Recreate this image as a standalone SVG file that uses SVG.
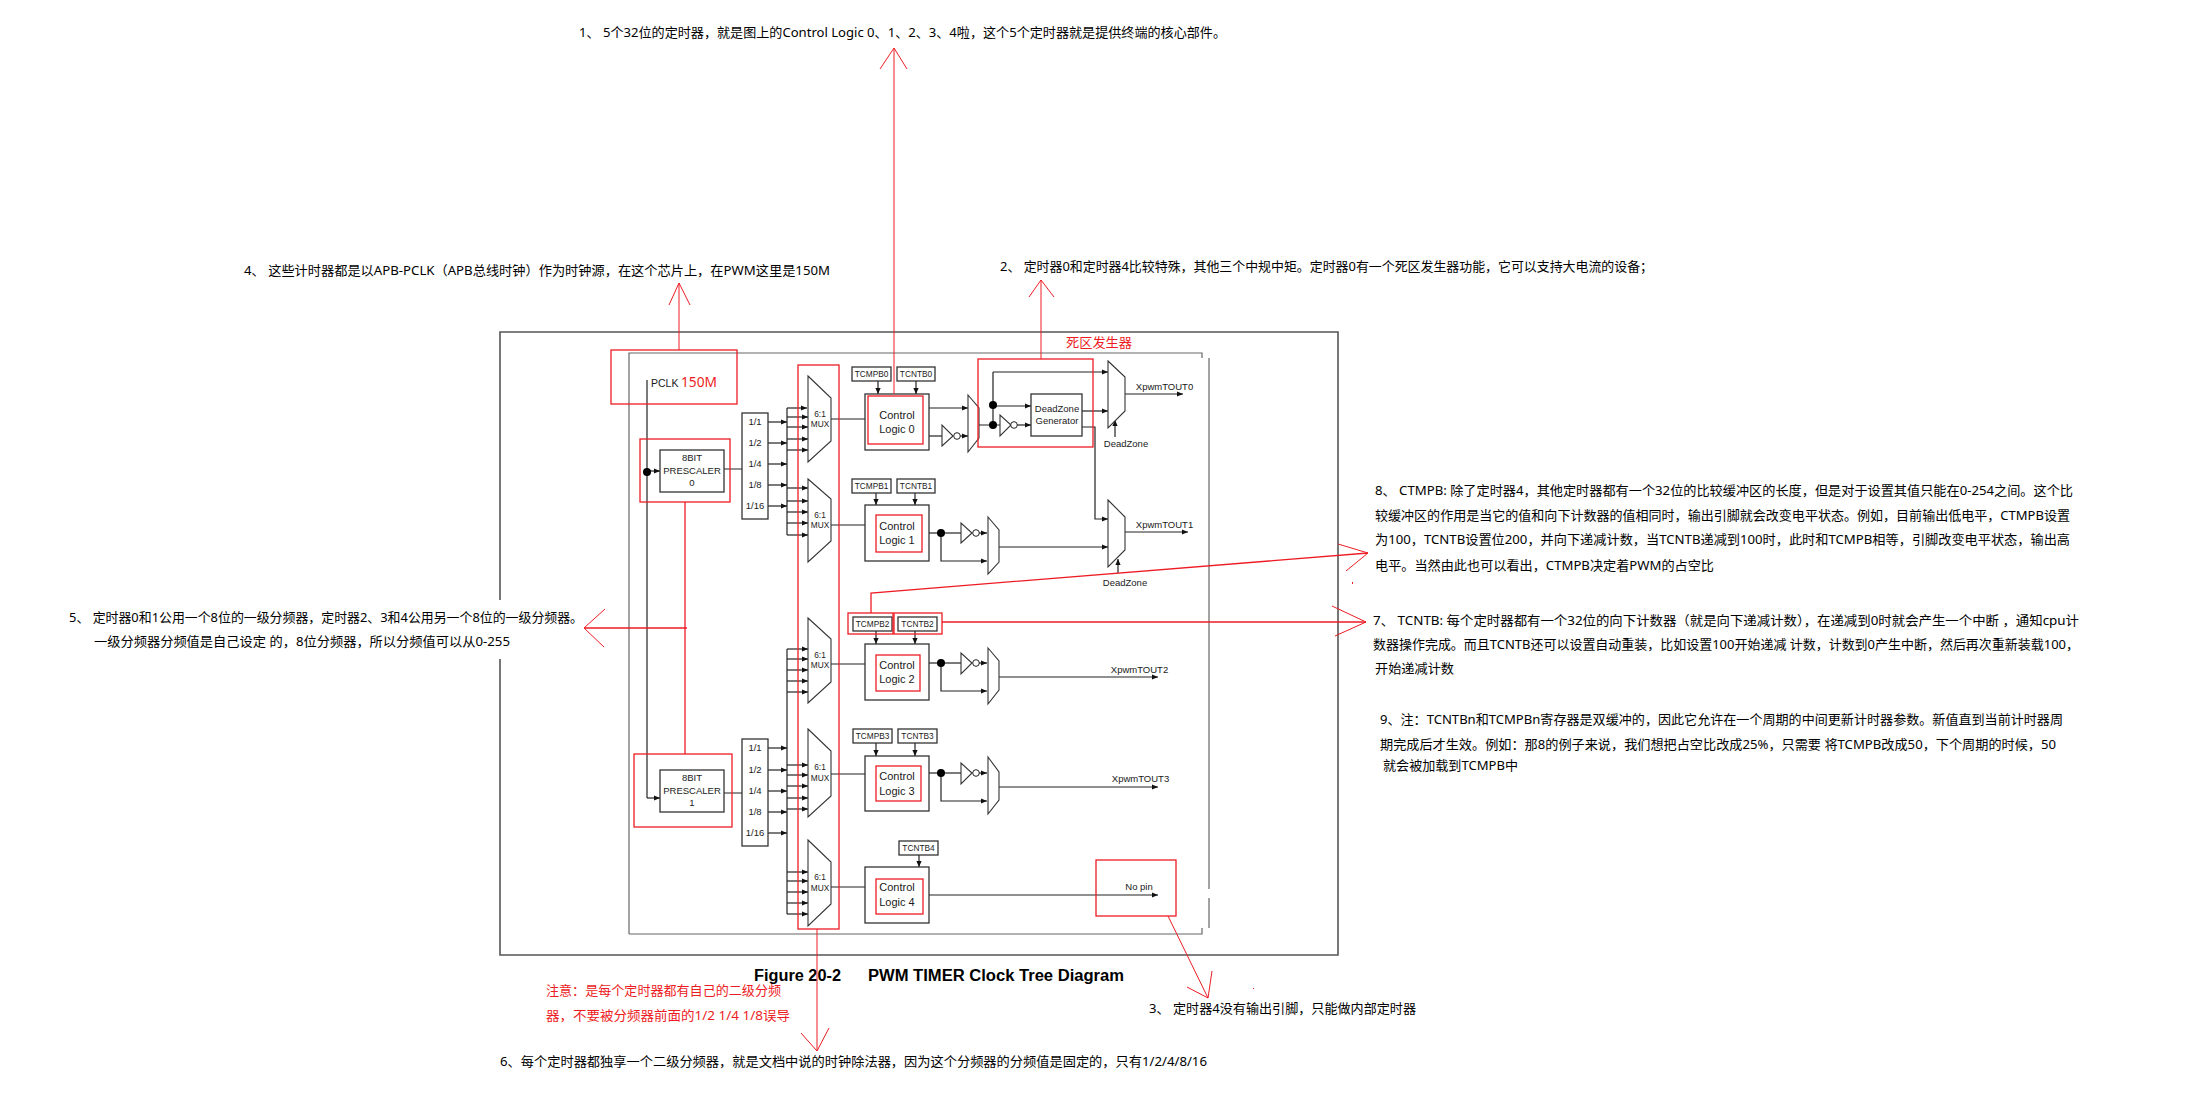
<svg xmlns="http://www.w3.org/2000/svg" width="2199" height="1097" viewBox="0 0 2199 1097">
<style>
text{font-family:"Liberation Sans",Arial,sans-serif;fill:#1a1a1a}
.n{font-size:13px;font-family:"Noto Sans","Noto Sans CJK SC",sans-serif;fill:#000}
.r{font-size:13px;font-family:"Noto Sans","Noto Sans CJK SC",sans-serif;fill:#ed1c24}
.b{fill:#fff;stroke:#333;stroke-width:1.3}
.l{font-size:11px;text-anchor:middle}
.s{font-size:8.3px;text-anchor:middle}
.m{font-size:9.5px;text-anchor:middle}
.w{fill:none;stroke:#222;stroke-width:1.2}
.a{marker-end:url(#ah)}
.rb{fill:none;stroke:#ed1c24;stroke-width:1.3}
.ra{fill:none;stroke:#ed1c24;stroke-width:1}
.t{fill:#fff;stroke:#333;stroke-width:1.1}
.d{fill:#000}
.o{fill:#fff;stroke:#222;stroke-width:1}
.c{font-size:16px;font-weight:700;fill:#000}
</style>
<defs>
<marker id="ah" markerUnits="userSpaceOnUse" markerWidth="6" markerHeight="6" refX="6" refY="3" orient="auto"><path d="M0,0.4 L6,3 L0,5.6z" fill="#111"/></marker>
</defs>
<rect width="2199" height="1097" fill="#fff"/>
<g id="frames" fill="none">
<path d="M500,600 V332 H1338 V955 H500 V659" stroke="#555" stroke-width="1.6"/>
<path d="M629,934 V353 H1202 V358 M629,934 H1202 V928" stroke="#666" stroke-width="1.2"/>
<path d="M1209,358 V889 M1209,898 V928" stroke="#666" stroke-width="1.2"/>
</g>
<g id="connectors">
<path class="w" d="M647,380 V798"/><path class="w a" d="M647,798 H660"/><path class="w a" d="M647,471 H660"/>
<path class="w" d="M724,469 H742 M724,793 H742"/>
<path class="w a" d="M768,422 H787"/><path class="w a" d="M768,443 H787"/><path class="w a" d="M768,464 H787"/><path class="w a" d="M768,485 H787"/><path class="w a" d="M768,506 H787"/>
<path class="w a" d="M768,748 H787"/><path class="w a" d="M768,770 H787"/><path class="w a" d="M768,791 H787"/><path class="w a" d="M768,812 H787"/><path class="w a" d="M768,833 H787"/>
<path class="w" d="M787,408 V535 M787,649 V914"/>
<path class="w a" d="M787,408 H807"/><path class="w a" d="M787,417 H808"/><path class="w a" d="M787,427 H808"/><path class="w a" d="M787,439 H808"/><path class="w a" d="M787,450 H808"/>
<path class="w a" d="M787,488 H808"/><path class="w a" d="M787,501 H808"/><path class="w a" d="M787,512 H808"/><path class="w a" d="M787,523 H808"/><path class="w a" d="M787,535 H808"/>
<path class="w a" d="M787,649 H808"/><path class="w a" d="M787,659 H808"/><path class="w a" d="M787,670 H808"/><path class="w a" d="M787,681 H808"/><path class="w a" d="M787,692 H808"/>
<path class="w a" d="M787,765 H808"/><path class="w a" d="M787,775 H808"/><path class="w a" d="M787,786 H808"/><path class="w a" d="M787,798 H808"/><path class="w a" d="M787,809 H808"/>
<path class="w a" d="M787,872 H808"/><path class="w a" d="M787,881 H808"/><path class="w a" d="M787,892 H808"/><path class="w a" d="M787,903 H808"/><path class="w a" d="M787,914 H808"/>
<path class="w" d="M831,419 H865 M831,525 H865 M831,664 H865 M831,774 H865 M831,887 H865"/>
<path class="w a" d="M878,381 V394"/><path class="w a" d="M916,381 V394"/>
<path class="w a" d="M876,493 V505"/><path class="w a" d="M915,493 V505"/>
<path class="w a" d="M876,631 V644"/><path class="w a" d="M915,631 V644"/>
<path class="w a" d="M876,743 V756"/><path class="w a" d="M915,743 V756"/>
<path class="w a" d="M919,855 V867"/>
<path class="w a" d="M929,408 H968"/><path class="w" d="M929,436 H942"/><path class="w a" d="M960,436 H968"/>
<path class="w" d="M979,425 H1000 M993,425 V372"/><path class="w a" d="M993,372 H1108"/><path class="w a" d="M993,406 H1031"/><path class="w a" d="M1017,425 H1031"/>
<path class="w a" d="M1082,411 H1108"/><path class="w a" d="M1082,427 H1095 V519 H1108"/>
<path class="w a" d="M1125,394 H1183"/><path class="w a" d="M1115,437 V420"/>
<path class="w a" d="M1124,532 H1188"/><path class="w a" d="M1118,573 V559"/>
<path class="w" d="M929,533 H961"/><path class="w a" d="M979,533 H987"/><path class="w a" d="M941,533 V561 H987"/><path class="w a" d="M999,547 H1108"/>
<path class="w" d="M929,663 H961"/><path class="w a" d="M979,663 H987"/><path class="w a" d="M941,663 V691 H987"/><path class="w a" d="M999,677 H1158"/>
<path class="w" d="M929,773 H961"/><path class="w a" d="M979,773 H987"/><path class="w a" d="M941,773 V801 H987"/><path class="w a" d="M999,787 H1158"/>
<path class="w a" d="M929,895 H1158"/>
<circle class="d" cx="647" cy="472" r="4"/><circle class="d" cx="993" cy="405" r="4"/><circle class="d" cx="993" cy="425" r="4"/><circle class="d" cx="941" cy="533" r="4"/><circle class="d" cx="941" cy="663" r="4"/><circle class="d" cx="941" cy="773" r="4"/>
</g>
<text id="pclk" x="651" y="387" font-size="10.5">PCLK</text>
<g id="prescaler0"><rect class="b" x="660" y="450" width="64" height="42"/><text class="m" x="692" y="461">8BIT</text><text class="m" x="692" y="474">PRESCALER</text><text class="m" x="692" y="486">0</text></g>
<g id="prescaler1"><rect class="b" x="660" y="770" width="64" height="42"/><text class="m" x="692" y="781">8BIT</text><text class="m" x="692" y="794">PRESCALER</text><text class="m" x="692" y="806">1</text></g>
<g id="divider0"><rect class="b" x="742" y="413" width="26" height="106"/><text class="m" x="755" y="425">1/1</text><text class="m" x="755" y="446">1/2</text><text class="m" x="755" y="467">1/4</text><text class="m" x="755" y="488">1/8</text><text class="m" x="755" y="509">1/16</text></g>
<g id="divider1"><rect class="b" x="742" y="739" width="26" height="107"/><text class="m" x="755" y="751">1/1</text><text class="m" x="755" y="773">1/2</text><text class="m" x="755" y="794">1/4</text><text class="m" x="755" y="815">1/8</text><text class="m" x="755" y="836">1/16</text></g>
<g id="mux0"><path class="t" d="M808,376 L831,398 V441 L808,462z"/><text class="s" x="820" y="417">6:1</text><text class="s" x="820" y="427">MUX</text></g>
<g id="mux1"><path class="t" d="M808,479 L831,499 V541 L808,562z"/><text class="s" x="820" y="518">6:1</text><text class="s" x="820" y="528">MUX</text></g>
<g id="mux2"><path class="t" d="M808,618 L831,639 V682 L808,703z"/><text class="s" x="820" y="658">6:1</text><text class="s" x="820" y="668">MUX</text></g>
<g id="mux3"><path class="t" d="M808,729 L831,751 V796 L808,817z"/><text class="s" x="820" y="770">6:1</text><text class="s" x="820" y="781">MUX</text></g>
<g id="mux4"><path class="t" d="M808,840 L831,862 V904 L808,926z"/><text class="s" x="820" y="880">6:1</text><text class="s" x="820" y="891">MUX</text></g>
<g id="logic0"><rect class="b" x="865" y="394" width="64" height="56"/><text class="l" x="897" y="419">Control</text><text class="l" x="897" y="433">Logic 0</text></g>
<g id="logic1"><rect class="b" x="865" y="505" width="64" height="56"/><text class="l" x="897" y="530">Control</text><text class="l" x="897" y="544">Logic 1</text></g>
<g id="logic2"><rect class="b" x="865" y="644" width="64" height="56"/><text class="l" x="897" y="669">Control</text><text class="l" x="897" y="683">Logic 2</text></g>
<g id="logic3"><rect class="b" x="865" y="756" width="64" height="55"/><text class="l" x="897" y="780">Control</text><text class="l" x="897" y="795">Logic 3</text></g>
<g id="logic4"><rect class="b" x="865" y="867" width="64" height="56"/><text class="l" x="897" y="891">Control</text><text class="l" x="897" y="906">Logic 4</text></g>
<g id="tcmpb0"><rect class="b" x="852" y="367" width="39" height="14"/><text class="s" x="871.500" y="377">TCMPB0</text></g>
<g id="tcntb0"><rect class="b" x="897" y="367" width="38" height="14"/><text class="s" x="916" y="377">TCNTB0</text></g>
<g id="tcmpb1"><rect class="b" x="852" y="479" width="39" height="14"/><text class="s" x="871.500" y="489">TCMPB1</text></g>
<g id="tcntb1"><rect class="b" x="897" y="479" width="38" height="14"/><text class="s" x="916" y="489">TCNTB1</text></g>
<g id="tcmpb2"><rect class="b" x="853" y="617" width="39" height="14"/><text class="s" x="872.500" y="627">TCMPB2</text></g>
<g id="tcntb2"><rect class="b" x="898" y="617" width="39" height="14"/><text class="s" x="917.500" y="627">TCNTB2</text></g>
<g id="tcmpb3"><rect class="b" x="853" y="729" width="39" height="14"/><text class="s" x="872.500" y="739">TCMPB3</text></g>
<g id="tcntb3"><rect class="b" x="898" y="729" width="39" height="14"/><text class="s" x="917.500" y="739">TCNTB3</text></g>
<g id="tcntb4"><rect class="b" x="899" y="841" width="39" height="14"/><text class="s" x="918.500" y="851">TCNTB4</text></g>
<g id="inv0"><path class="t" d="M942,425 V446 L953,436z"/><circle class="o" cx="957" cy="436" r="3.300"/></g>
<g id="inv0b"><path class="t" d="M1000,415 V436 L1011,425z"/><circle class="o" cx="1014" cy="425" r="3.300"/></g>
<g id="inv1"><path class="t" d="M961,523 V543 L972,533z"/><circle class="o" cx="976" cy="533" r="3.300"/></g>
<g id="inv2"><path class="t" d="M961,653 V674 L972,663z"/><circle class="o" cx="976" cy="663" r="3.300"/></g>
<g id="inv3"><path class="t" d="M961,763 V784 L972,773z"/><circle class="o" cx="976" cy="773" r="3.300"/></g>
<g id="smux0"><path class="t" d="M968,395 L979,408 V438 L968,452z"/></g>
<g id="smux1"><path class="t" d="M988,517 L999,530 V562 L988,574z"/></g>
<g id="smux2"><path class="t" d="M988,648 L999,661 V690 L988,704z"/></g>
<g id="smux3"><path class="t" d="M988,757 L999,772 V800 L988,814z"/></g>
<g id="deadzone"><rect class="b" x="1031" y="394" width="51" height="42"/><text class="m" x="1057" y="412">DeadZone</text><text class="m" x="1057" y="424">Generator</text></g>
<g id="bigmux0"><path class="t" d="M1108,361 L1125,377 V411 L1108,428z"/></g>
<g id="bigmux1"><path class="t" d="M1108,500 L1125,517 V550 L1108,567z"/></g>
<g id="labels">
<text class="m" x="1164.500" y="390">XpwmTOUT0</text><text class="m" x="1164.500" y="528">XpwmTOUT1</text><text class="m" x="1139.500" y="673">XpwmTOUT2</text><text class="m" x="1140.500" y="782">XpwmTOUT3</text><text class="m" x="1139" y="890">No pin</text>
<text class="m" x="1126" y="447">DeadZone</text><text class="m" x="1125" y="586">DeadZone</text>
<text class="c" x="754" y="981" textLength="87" lengthAdjust="spacingAndGlyphs">Figure 20-2</text>
<text class="c" x="868" y="981" textLength="256" lengthAdjust="spacingAndGlyphs">PWM TIMER Clock Tree Diagram</text>
</g>
<g id="annotations">
<rect class="rb" x="611" y="350" width="126" height="54"/>
<rect class="rb" x="640" y="439" width="90" height="63"/>
<rect class="rb" x="634" y="754" width="98" height="73"/>
<rect class="rb" x="798" y="365" width="41" height="564"/>
<rect class="rb" x="868" y="396" width="55" height="48"/>
<rect class="rb" x="876" y="515" width="46" height="37"/>
<rect class="rb" x="876" y="655" width="44" height="36"/>
<rect class="rb" x="876" y="766" width="45" height="35"/>
<rect class="rb" x="876" y="879" width="47" height="35"/>
<rect class="rb" x="848" y="613" width="45" height="21"/>
<rect class="rb" x="894" y="613" width="48" height="21"/>
<rect class="rb" x="978" y="359" width="115" height="88"/>
<rect class="rb" x="1096" y="860" width="80" height="56"/>
<path class="ra" d="M679,350 V283 M669,305 L679,283 L690,305"/>
<path class="ra" d="M894,394 V48 M880,69 L894,48 L907,69"/>
<path class="ra" d="M1041,359 V280 M1029,297 L1041,280 L1054,297"/>
<path class="rb" d="M685,502 V754 M687,628 H584"/>
<path class="ra" d="M605,609 L584,628 L604,647"/>
<path class="ra" d="M817,929 V1051 M801,1033 L817,1051 L829,1028"/>
<path class="ra" d="M1168,916 L1208,998 M1187,987 L1208,998 L1212,971"/>
<path class="rb" d="M871,613 V593 L1368,553 M942,622 H1366"/>
<path class="ra" d="M1338,544 L1368,553 L1346,571 M1332,606 L1366,622 L1335,636"/>
<rect x="1352" y="582" width="1" height="2" fill="#ed1c24"/>
<rect x="1253" y="988" width="1" height="1" fill="#ed1c24"/>
</g>
<g id="notes">
<text class="r" x="681" y="387" style="font-size:14px" textLength="36" lengthAdjust="spacingAndGlyphs">150M</text>
<text class="r" x="1066" y="347" textLength="66" lengthAdjust="spacingAndGlyphs">死区发生器</text>
<text class="n" x="579" y="37" textLength="647" lengthAdjust="spacingAndGlyphs">1、 5个32位的定时器，就是图上的Control Logic 0、1、2、3、4啦，这个5个定时器就是提供终端的核心部件。</text>
<text class="n" x="244" y="274.500" textLength="586" lengthAdjust="spacingAndGlyphs">4、 这些计时器都是以APB-PCLK（APB总线时钟）作为时钟源，在这个芯片上，在PWM这里是150M</text>
<text class="n" x="1000" y="271" textLength="653" lengthAdjust="spacingAndGlyphs">2、 定时器0和定时器4比较特殊，其他三个中规中矩。定时器0有一个死区发生器功能，它可以支持大电流的设备；</text>
<text class="n" x="1375" y="494.500" textLength="698" lengthAdjust="spacingAndGlyphs">8、 CTMPB: 除了定时器4，其他定时器都有一个32位的比较缓冲区的长度，但是对于设置其值只能在0-254之间。这个比</text>
<text class="n" x="1375" y="519.500" textLength="695" lengthAdjust="spacingAndGlyphs">较缓冲区的作用是当它的值和向下计数器的值相同时，输出引脚就会改变电平状态。例如，目前输出低电平，CTMPB设置</text>
<text class="n" x="1375" y="543.500" textLength="695" lengthAdjust="spacingAndGlyphs">为100，TCNTB设置位200，并向下递减计数，当TCNTB递减到100时，此时和TCMPB相等，引脚改变电平状态，输出高</text>
<text class="n" x="1375" y="569.500" textLength="339" lengthAdjust="spacingAndGlyphs">电平。当然由此也可以看出，CTMPB决定着PWM的占空比</text>
<text class="n" x="1373" y="624.500" textLength="706" lengthAdjust="spacingAndGlyphs">7、 TCNTB: 每个定时器都有一个32位的向下计数器（就是向下递减计数），在递减到0时就会产生一个中断 ，通知cpu计</text>
<text class="n" x="1373" y="648.500" textLength="706" lengthAdjust="spacingAndGlyphs">数器操作完成。而且TCNTB还可以设置自动重装，比如设置100开始递减 计数，计数到0产生中断，然后再次重新装载100，</text>
<text class="n" x="1375" y="672.500" textLength="79" lengthAdjust="spacingAndGlyphs">开始递减计数</text>
<text class="n" x="1380" y="723.500" textLength="683" lengthAdjust="spacingAndGlyphs">9、注：TCNTBn和TCMPBn寄存器是双缓冲的，因此它允许在一个周期的中间更新计时器参数。新值直到当前计时器周</text>
<text class="n" x="1380" y="748.500" textLength="676" lengthAdjust="spacingAndGlyphs">期完成后才生效。例如：那8的例子来说，我们想把占空比改成25%，只需要 将TCMPB改成50，下个周期的时候，50</text>
<text class="n" x="1383" y="769.500" textLength="135" lengthAdjust="spacingAndGlyphs">就会被加载到TCMPB中</text>
<text class="n" x="69" y="621.500" textLength="514" lengthAdjust="spacingAndGlyphs">5、 定时器0和1公用一个8位的一级分频器，定时器2、3和4公用另一个8位的一级分频器。</text>
<text class="n" x="94" y="645.500" textLength="416" lengthAdjust="spacingAndGlyphs">一级分频器分频值是自己设定 的，8位分频器，所以分频值可以从0-255</text>
<text class="n" x="500" y="1066" textLength="707" lengthAdjust="spacingAndGlyphs">6、每个定时器都独享一个二级分频器，就是文档中说的时钟除法器，因为这个分频器的分频值是固定的，只有1/2/4/8/16</text>
<text class="r" x="546" y="995" textLength="235" lengthAdjust="spacingAndGlyphs">注意：是每个定时器都有自己的二级分频</text>
<text class="r" x="546" y="1020" textLength="244" lengthAdjust="spacingAndGlyphs">器，不要被分频器前面的1/2 1/4 1/8误导</text>
<text class="n" x="1149" y="1012.500" textLength="267" lengthAdjust="spacingAndGlyphs">3、 定时器4没有输出引脚，只能做内部定时器</text>
</g>
</svg>
